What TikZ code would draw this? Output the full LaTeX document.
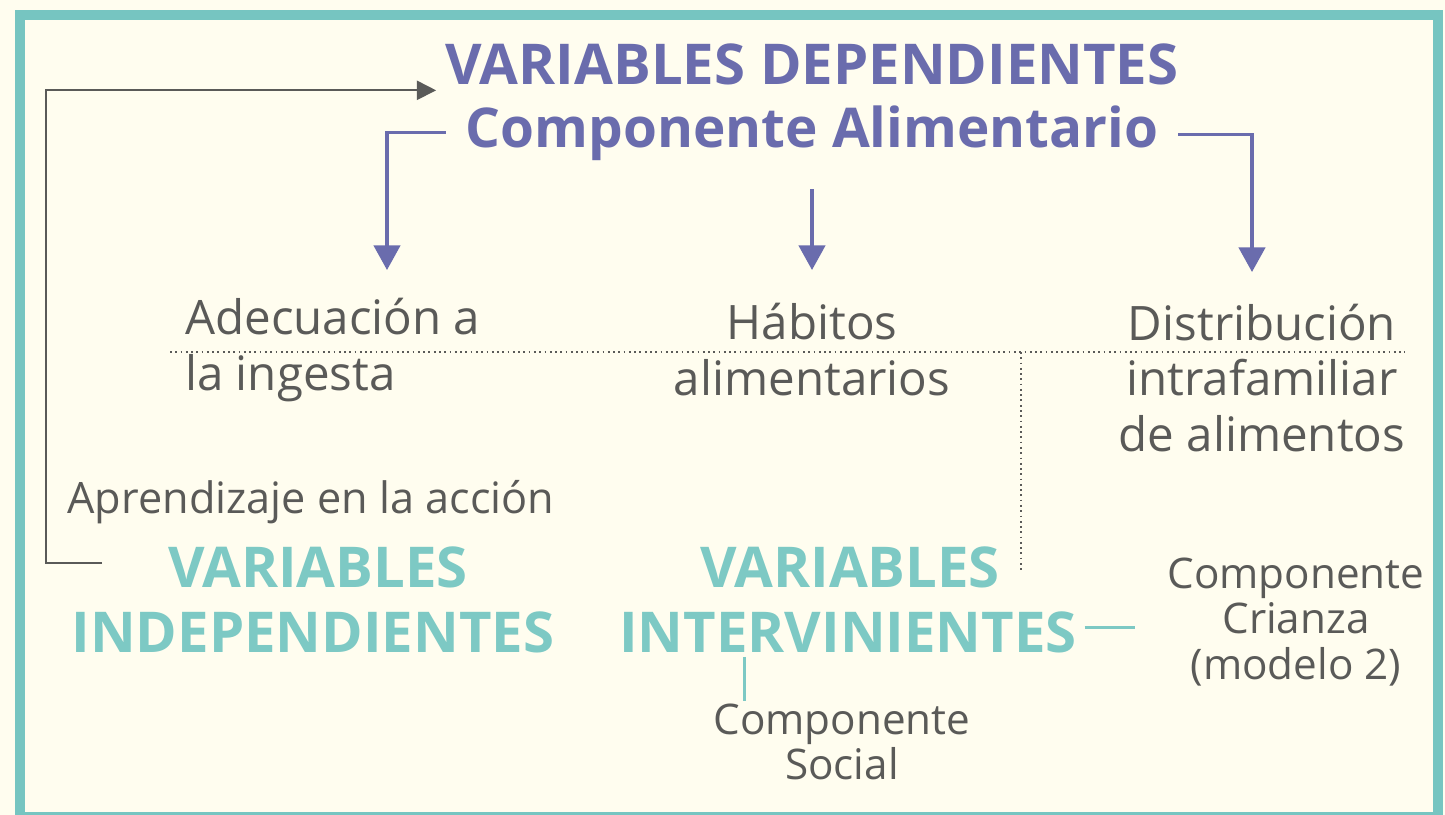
\documentclass[tikz,border=0pt]{standalone}
\usepackage{fontspec}
\setmainfont{Open Sans}
\usetikzlibrary{arrows.meta,positioning}
\usepackage{xcolor}
\definecolor{fondo}{HTML}{FFFDEF}
\definecolor{marco}{HTML}{76C5C1}
\definecolor{turq}{HTML}{7DC9C4}
\definecolor{azul}{HTML}{6A6CAD}
\definecolor{gris}{HTML}{5A5A58}
\tikzset{
	titulo/.style={text=azul,inner sep=1pt,font=\fontsize{16}{18.8}\selectfont\bfseries},
	varbox/.style={text=turq,inner sep=1pt,font=\fontsize{16}{17.6}\selectfont\bfseries},
	itembox/.style={text=gris,inner sep=1pt,font=\fontsize{13.5}{15.9}\selectfont},
	compbox/.style={text=gris,inner sep=1pt,align=center,font=\fontsize{12}{13}\selectfont},
	flecha/.style={azul,line width=0.9pt,-{Triangle[width=7.5pt,length=7pt]}},
	lazo/.style={gris,line width=0.5pt,-{Triangle[width=5.5pt,length=5.5pt]}},
	punteado/.style={gris,line width=0.5pt,densely dotted},
	trazo/.style={turq,line width=0.8pt}
}
\begin{document}
\begin{tikzpicture}[x=0.01cm,y=-0.01cm]
			\useasboundingbox (0,0) rectangle (1445,815);
			\fill[fondo] (0,0) rectangle (1445,815);
			\draw[marco,line width=0.1cm] (20,15) rectangle (1438,817);
			
			\node[titulo,anchor=base] (dep) at (812,84) {VARIABLES DEPENDIENTES};
			\node[titulo,font=\fontsize{15.6}{18.8}\selectfont\bfseries,anchor=base] (alim) at (812,147) {Componente Alimentario};
			
			\node[itembox,align=left,anchor=west] (adec) at (181,350) {Adecuación a\\la ingesta};
			\node[itembox,align=center] (hab) at (812,350) {Hábitos\\alimentarios};
			\node[itembox,align=center] (distr) at (1262,378) {Distribución\\intrafamiliar\\de alimentos};
			
			\node[compbox,font=\fontsize{12.3}{13}\selectfont,anchor=base] (aprend) at (311,513) {Aprendizaje en la acción};
			\node[varbox,anchor=base] (indepA) at (318,587) {VARIABLES};
			\node[varbox,anchor=base] (indepB) at (313,652) {INDEPENDIENTES};
			\node[varbox,anchor=base] (intervA) at (850,587) {VARIABLES};
			\node[varbox,anchor=base] (intervB) at (848,652) {INTERVINIENTES};
			\node[compbox] (social) at (842,742) {Componente\\Social};
			\node[compbox] (crianza) at (1296,622) {Componente\\Crianza\\(modelo 2)};
			
			\coordinate (tipA) at (387,270);
			\coordinate (tipB) at (812,270);
			\coordinate (tipC) at (1252,272);
			\coordinate (inicio) at (102,563);
			
			\draw[flecha] ([xshift=-4.5pt]alim.west) -| (tipA);
			\draw[flecha] ([yshift=-7pt]alim.south) -- (tipB);
			\draw[flecha] ([xshift=4.5pt,yshift=-0.5pt]alim.east) -| (tipC);
			
			\draw[lazo] (inicio) -- (46,563) |- ([xshift=-1.5pt,yshift=-1.8pt]dep.base west);
			
			\draw[punteado] (170,352) -- (1405,352);
			\draw[punteado] (1021,352) -- (1021,573);
			
			\draw[trazo,line width=1pt] ([xshift=1pt,yshift=7pt]intervB.base east) -- ++(50,0);
			\draw[trazo] ([xshift=-29.5pt]intervB.south) -- ++(0,44);
\end{tikzpicture}
\end{document}
